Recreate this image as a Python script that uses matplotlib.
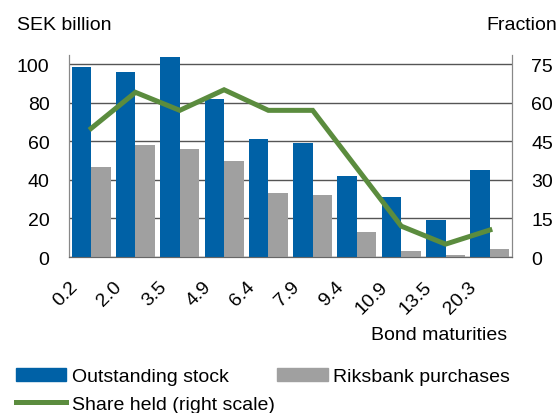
import numpy as np
import matplotlib
matplotlib.use('Agg')
import matplotlib.pyplot as plt
import matplotlib.transforms as mtransforms
from matplotlib.patches import Patch
from matplotlib.lines import Line2D

plt.rcParams['font.family'] = ['Liberation Sans', 'DejaVu Sans']
plt.rcParams['ytick.major.pad'] = 14

# Data
maturities = ['0.2', '2.0', '3.5', '4.9', '6.4', '7.9', '9.4', '10.9', '13.5', '20.3']
outstanding = [98.5, 96, 103.5, 82, 61, 59, 42, 31, 19, 45]
purchases = [46.5, 58, 56, 50, 33, 32, 13, 3.3, 1, 4.3]
share_held = [50, 64, 57, 65, 57, 57, 34.5, 12, 5, 10.5]

blue = '#0061a6'
grey = '#a0a0a0'
green = '#5b8c3e'
fs = 14

fig = plt.figure(figsize=(5.58, 4.14), dpi=100)
ax = fig.add_axes([0.1237, 0.3768, 0.7939, 0.488])
ax2 = ax.twinx()

x = np.arange(len(maturities))
w = 0.44
ax.bar(x - w / 2, outstanding, width=w, color=blue, zorder=3)
ax.bar(x + w / 2, purchases, width=w, color=grey, zorder=3)
ax2.plot(x, share_held, color=green, linewidth=3.6, solid_joinstyle='miter', zorder=4)

ax.set_xlim(-0.5, len(maturities) - 0.5)
ax.set_ylim(0, 104.7)
ax2.set_ylim(0, 104.7 * 0.75)
ax.set_yticks([0, 20, 40, 60, 80, 100])
ax2.set_yticks([0, 15, 30, 45, 60, 75])
ax.yaxis.grid(True, color='#555555', linewidth=1.0, zorder=0)
ax.set_axisbelow(True)

for a in (ax, ax2):
    a.spines['top'].set_visible(False)
    a.spines['left'].set_color('#888888')
    a.spines['right'].set_color('#888888')
    a.spines['bottom'].set_color('#666666')
    a.tick_params(length=0, labelsize=fs, colors='black')

ax.set_xticks(x)
ax.set_xticklabels(maturities, rotation=45, ha='right', fontsize=fs)
ax.tick_params(axis='x', pad=15)
offset = mtransforms.ScaledTranslation(-10 / 100, 0, fig.dpi_scale_trans)
for lab in ax.get_xticklabels():
    lab.set_transform(lab.get_transform() + offset)

fig.text(17 / 558, 1 - 25 / 414, 'SEK billion', fontsize=fs, va='center', ha='left')
fig.text(557 / 558, 1 - 25 / 414, 'Fraction', fontsize=fs, va='center', ha='right')
fig.text(507 / 558, 1 - 335 / 414, 'Bond maturities', fontsize=fs, va='center', ha='right')

handles = [Patch(color=blue), Line2D([0], [0], color=green, linewidth=3.6),
           Patch(color=grey)]
labels = ['Outstanding stock', 'Share held (right scale)', 'Riksbank purchases']
fig.legend(handles, labels, ncol=2, loc='upper left',
           bbox_to_anchor=(8 / 558, 1 - 361 / 414), frameon=False,
           fontsize=fs, handlelength=2.6, handleheight=0.7,
           handletextpad=0.3, columnspacing=0.1, labelspacing=0.5,
           borderaxespad=0)

fig.savefig('out.png', dpi=100)
